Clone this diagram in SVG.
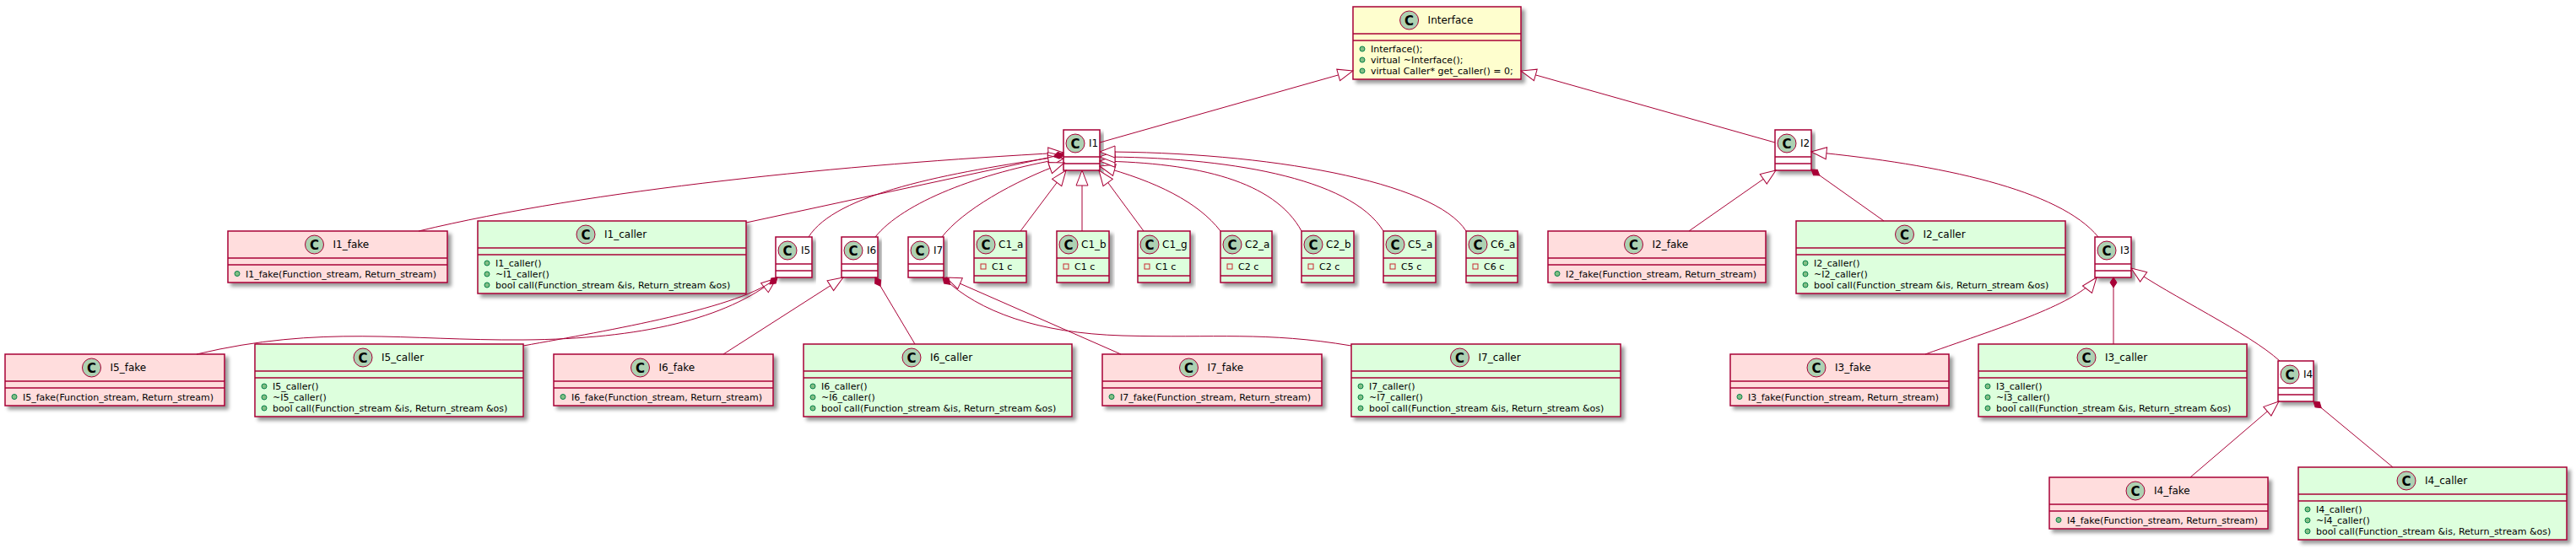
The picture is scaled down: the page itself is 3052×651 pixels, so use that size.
<svg xmlns="http://www.w3.org/2000/svg" width="3052" height="651" viewBox="0 0 3052 651">
<defs>
<style>
.bx{stroke:#A80036;stroke-width:1.5;filter:url(#sh)}
.sp{stroke:#A80036;stroke-width:1.5}
.e{fill:none;stroke:#A80036;stroke-width:1}
.ext{marker-start:url(#ext)}
.cmp{marker-start:url(#cmp)}
.t{font-family:"DejaVu Sans","Liberation Sans",sans-serif;font-size:12px;fill:#000}
.m{font-family:"DejaVu Sans","Liberation Sans",sans-serif;font-size:11px;fill:#000}
.spot{fill:#ADD1B2;stroke:#A80036;stroke-width:1}
.sc{font-family:"DejaVu Sans","Liberation Sans",sans-serif;font-size:15px;font-weight:bold;text-anchor:middle;fill:#000}
.pub{fill:#84BE84;stroke:#038048;stroke-width:1}
.prv{fill:none;stroke:#C82930;stroke-width:1}
.y{fill:#FEFECE}.w{fill:#FFFFFF}.p{fill:#FFDDDD}.g{fill:#DDFFDD}
</style>
<filter id="sh" x="-5%" y="-10%" width="115%" height="140%">
<feGaussianBlur in="SourceAlpha" stdDeviation="2" result="b"/>
<feColorMatrix in="b" type="matrix" values="0 0 0 0 0 0 0 0 0 0 0 0 0 0 0 0 0 0 .4 0" result="c"/>
<feOffset in="c" dx="4" dy="4" result="o"/>
<feMerge><feMergeNode in="o"/><feMergeNode in="SourceGraphic"/></feMerge>
</filter>
<marker id="ext" markerUnits="userSpaceOnUse" markerWidth="20" markerHeight="16" refX="18" refY="7" orient="auto-start-reverse" overflow="visible">
<polygon points="18,7 0,0 0,14" fill="#FFFFFF" stroke="#A80036" stroke-width="1"/>
</marker>
<marker id="cmp" markerUnits="userSpaceOnUse" markerWidth="14" markerHeight="10" refX="12" refY="4" orient="auto-start-reverse" overflow="visible">
<polygon points="12,4 6,0 0,4 6,8" fill="#A80036" stroke="#A80036" stroke-width="1"/>
</marker>
</defs>
<rect width="3052" height="651" fill="#FFFFFF"/>

<g id="Interface">
<rect class="bx y" x="1603" y="8" width="199" height="86"/>
<circle class="spot" cx="1669.6" cy="24" r="11"/><text class="sc" x="1669.6" y="29.5">C</text>
<text class="t" x="1691.6" y="28.4">Interface</text>
<line class="sp" x1="1603" y1="40" x2="1802" y2="40"/><line class="sp" x1="1603" y1="48" x2="1802" y2="48"/>
<circle class="pub" cx="1614" cy="58" r="3"/><text class="m" x="1624" y="62">Interface();</text>
<circle class="pub" cx="1614" cy="71" r="3"/><text class="m" x="1624" y="75">virtual ~Interface();</text>
<circle class="pub" cx="1614" cy="84" r="3"/><text class="m" x="1624" y="88">virtual Caller* get_caller() = 0;</text>
</g>

<g id="I1">
<rect class="bx w" x="1260" y="154" width="43" height="48"/>
<circle class="spot" cx="1274" cy="170" r="11"/><text class="sc" x="1274" y="175.5">C</text>
<text class="t" x="1290" y="174.4">I1</text>
<line class="sp" x1="1260" y1="186" x2="1303" y2="186"/><line class="sp" x1="1260" y1="194" x2="1303" y2="194"/>
</g>

<g id="I2">
<rect class="bx w" x="2103" y="154" width="43" height="48"/>
<circle class="spot" cx="2117" cy="170" r="11"/><text class="sc" x="2117" y="175.5">C</text>
<text class="t" x="2133" y="174.4">I2</text>
<line class="sp" x1="2103" y1="186" x2="2146" y2="186"/><line class="sp" x1="2103" y1="194" x2="2146" y2="194"/>
</g>

<g id="I1_fake">
<rect class="bx p" x="270" y="274" width="260" height="61"/>
<circle class="spot" cx="372.5" cy="290" r="11"/><text class="sc" x="372.5" y="295.5">C</text>
<text class="t" x="394.5" y="294.4">I1_fake</text>
<line class="sp" x1="270" y1="306" x2="530" y2="306"/><line class="sp" x1="270" y1="314" x2="530" y2="314"/>
<circle class="pub" cx="281" cy="324.5" r="3"/><text class="m" x="291" y="328.5">I1_fake(Function_stream, Return_stream)</text>
</g>

<g id="I1_caller">
<rect class="bx g" x="566" y="262" width="318" height="86"/>
<circle class="spot" cx="694" cy="278" r="11"/><text class="sc" x="694" y="283.5">C</text>
<text class="t" x="716" y="282.4">I1_caller</text>
<line class="sp" x1="566" y1="294" x2="884" y2="294"/><line class="sp" x1="566" y1="302" x2="884" y2="302"/>
<circle class="pub" cx="577" cy="312" r="3"/><text class="m" x="587" y="316">I1_caller()</text>
<circle class="pub" cx="577" cy="325" r="3"/><text class="m" x="587" y="329">~I1_caller()</text>
<circle class="pub" cx="577" cy="338" r="3"/><text class="m" x="587" y="342">bool call(Function_stream &amp;is, Return_stream &amp;os)</text>
</g>

<g id="I5">
<rect class="bx w" x="919" y="281" width="43" height="48"/>
<circle class="spot" cx="933" cy="297" r="11"/><text class="sc" x="933" y="302.5">C</text>
<text class="t" x="949" y="301.4">I5</text>
<line class="sp" x1="919" y1="313" x2="962" y2="313"/><line class="sp" x1="919" y1="321" x2="962" y2="321"/>
</g>

<g id="I6">
<rect class="bx w" x="997" y="281" width="43" height="48"/>
<circle class="spot" cx="1011" cy="297" r="11"/><text class="sc" x="1011" y="302.5">C</text>
<text class="t" x="1027" y="301.4">I6</text>
<line class="sp" x1="997" y1="313" x2="1040" y2="313"/><line class="sp" x1="997" y1="321" x2="1040" y2="321"/>
</g>

<g id="I7">
<rect class="bx w" x="1076" y="281" width="42" height="48"/>
<circle class="spot" cx="1090" cy="297" r="11"/><text class="sc" x="1090" y="302.5">C</text>
<text class="t" x="1106" y="301.4">I7</text>
<line class="sp" x1="1076" y1="313" x2="1118" y2="313"/><line class="sp" x1="1076" y1="321" x2="1118" y2="321"/>
</g>

<g id="C1_a">
<rect class="bx g" x="1154" y="274" width="62" height="61"/>
<circle class="spot" cx="1168" cy="290" r="11"/><text class="sc" x="1168" y="295.5">C</text>
<text class="t" x="1183" y="294.4">C1_a</text>
<line class="sp" x1="1154" y1="306" x2="1216" y2="306"/><line class="sp" x1="1154" y1="327" x2="1216" y2="327"/>
<rect class="prv" x="1162" y="313" width="6" height="6"/><text class="m" x="1175" y="320">C1 c</text>
</g>

<g id="C1_b">
<rect class="bx g" x="1252" y="274" width="62" height="61"/>
<circle class="spot" cx="1266" cy="290" r="11"/><text class="sc" x="1266" y="295.5">C</text>
<text class="t" x="1281" y="294.4">C1_b</text>
<line class="sp" x1="1252" y1="306" x2="1314" y2="306"/><line class="sp" x1="1252" y1="327" x2="1314" y2="327"/>
<rect class="prv" x="1260" y="313" width="6" height="6"/><text class="m" x="1273" y="320">C1 c</text>
</g>

<g id="C1_g">
<rect class="bx g" x="1348" y="274" width="62" height="61"/>
<circle class="spot" cx="1362" cy="290" r="11"/><text class="sc" x="1362" y="295.5">C</text>
<text class="t" x="1377" y="294.4">C1_g</text>
<line class="sp" x1="1348" y1="306" x2="1410" y2="306"/><line class="sp" x1="1348" y1="327" x2="1410" y2="327"/>
<rect class="prv" x="1356" y="313" width="6" height="6"/><text class="m" x="1369" y="320">C1 c</text>
</g>

<g id="C2_a">
<rect class="bx g" x="1446" y="274" width="61" height="61"/>
<circle class="spot" cx="1460" cy="290" r="11"/><text class="sc" x="1460" y="295.5">C</text>
<text class="t" x="1475" y="294.4">C2_a</text>
<line class="sp" x1="1446" y1="306" x2="1507" y2="306"/><line class="sp" x1="1446" y1="327" x2="1507" y2="327"/>
<rect class="prv" x="1454" y="313" width="6" height="6"/><text class="m" x="1467" y="320">C2 c</text>
</g>

<g id="C2_b">
<rect class="bx g" x="1542" y="274" width="62" height="61"/>
<circle class="spot" cx="1556" cy="290" r="11"/><text class="sc" x="1556" y="295.5">C</text>
<text class="t" x="1571" y="294.4">C2_b</text>
<line class="sp" x1="1542" y1="306" x2="1604" y2="306"/><line class="sp" x1="1542" y1="327" x2="1604" y2="327"/>
<rect class="prv" x="1550" y="313" width="6" height="6"/><text class="m" x="1563" y="320">C2 c</text>
</g>

<g id="C5_a">
<rect class="bx g" x="1639" y="274" width="62" height="61"/>
<circle class="spot" cx="1653" cy="290" r="11"/><text class="sc" x="1653" y="295.5">C</text>
<text class="t" x="1668" y="294.4">C5_a</text>
<line class="sp" x1="1639" y1="306" x2="1701" y2="306"/><line class="sp" x1="1639" y1="327" x2="1701" y2="327"/>
<rect class="prv" x="1647" y="313" width="6" height="6"/><text class="m" x="1660" y="320">C5 c</text>
</g>

<g id="C6_a">
<rect class="bx g" x="1737" y="274" width="61" height="61"/>
<circle class="spot" cx="1751" cy="290" r="11"/><text class="sc" x="1751" y="295.5">C</text>
<text class="t" x="1766" y="294.4">C6_a</text>
<line class="sp" x1="1737" y1="306" x2="1798" y2="306"/><line class="sp" x1="1737" y1="327" x2="1798" y2="327"/>
<rect class="prv" x="1745" y="313" width="6" height="6"/><text class="m" x="1758" y="320">C6 c</text>
</g>

<g id="I2_fake">
<rect class="bx p" x="1834" y="274" width="258" height="61"/>
<circle class="spot" cx="1935.5" cy="290" r="11"/><text class="sc" x="1935.5" y="295.5">C</text>
<text class="t" x="1957.5" y="294.4">I2_fake</text>
<line class="sp" x1="1834" y1="306" x2="2092" y2="306"/><line class="sp" x1="1834" y1="314" x2="2092" y2="314"/>
<circle class="pub" cx="1845" cy="324.5" r="3"/><text class="m" x="1855" y="328.5">I2_fake(Function_stream, Return_stream)</text>
</g>

<g id="I2_caller">
<rect class="bx g" x="2128" y="262" width="319" height="86"/>
<circle class="spot" cx="2256.5" cy="278" r="11"/><text class="sc" x="2256.5" y="283.5">C</text>
<text class="t" x="2278.5" y="282.4">I2_caller</text>
<line class="sp" x1="2128" y1="294" x2="2447" y2="294"/><line class="sp" x1="2128" y1="302" x2="2447" y2="302"/>
<circle class="pub" cx="2139" cy="312" r="3"/><text class="m" x="2149" y="316">I2_caller()</text>
<circle class="pub" cx="2139" cy="325" r="3"/><text class="m" x="2149" y="329">~I2_caller()</text>
<circle class="pub" cx="2139" cy="338" r="3"/><text class="m" x="2149" y="342">bool call(Function_stream &amp;is, Return_stream &amp;os)</text>
</g>

<g id="I3">
<rect class="bx w" x="2482" y="281" width="43" height="48"/>
<circle class="spot" cx="2496" cy="297" r="11"/><text class="sc" x="2496" y="302.5">C</text>
<text class="t" x="2512" y="301.4">I3</text>
<line class="sp" x1="2482" y1="313" x2="2525" y2="313"/><line class="sp" x1="2482" y1="321" x2="2525" y2="321"/>
</g>

<g id="I5_fake">
<rect class="bx p" x="6" y="420" width="260" height="61"/>
<circle class="spot" cx="108.5" cy="436" r="11"/><text class="sc" x="108.5" y="441.5">C</text>
<text class="t" x="130.5" y="440.4">I5_fake</text>
<line class="sp" x1="6" y1="452" x2="266" y2="452"/><line class="sp" x1="6" y1="460" x2="266" y2="460"/>
<circle class="pub" cx="17" cy="470.5" r="3"/><text class="m" x="27" y="474.5">I5_fake(Function_stream, Return_stream)</text>
</g>

<g id="I5_caller">
<rect class="bx g" x="302" y="408" width="318" height="86"/>
<circle class="spot" cx="430" cy="424" r="11"/><text class="sc" x="430" y="429.5">C</text>
<text class="t" x="452" y="428.4">I5_caller</text>
<line class="sp" x1="302" y1="440" x2="620" y2="440"/><line class="sp" x1="302" y1="448" x2="620" y2="448"/>
<circle class="pub" cx="313" cy="458" r="3"/><text class="m" x="323" y="462">I5_caller()</text>
<circle class="pub" cx="313" cy="471" r="3"/><text class="m" x="323" y="475">~I5_caller()</text>
<circle class="pub" cx="313" cy="484" r="3"/><text class="m" x="323" y="488">bool call(Function_stream &amp;is, Return_stream &amp;os)</text>
</g>

<g id="I6_fake">
<rect class="bx p" x="656" y="420" width="260" height="61"/>
<circle class="spot" cx="758.5" cy="436" r="11"/><text class="sc" x="758.5" y="441.5">C</text>
<text class="t" x="780.5" y="440.4">I6_fake</text>
<line class="sp" x1="656" y1="452" x2="916" y2="452"/><line class="sp" x1="656" y1="460" x2="916" y2="460"/>
<circle class="pub" cx="667" cy="470.5" r="3"/><text class="m" x="677" y="474.5">I6_fake(Function_stream, Return_stream)</text>
</g>

<g id="I6_caller">
<rect class="bx g" x="952" y="408" width="318" height="86"/>
<circle class="spot" cx="1080" cy="424" r="11"/><text class="sc" x="1080" y="429.5">C</text>
<text class="t" x="1102" y="428.4">I6_caller</text>
<line class="sp" x1="952" y1="440" x2="1270" y2="440"/><line class="sp" x1="952" y1="448" x2="1270" y2="448"/>
<circle class="pub" cx="963" cy="458" r="3"/><text class="m" x="973" y="462">I6_caller()</text>
<circle class="pub" cx="963" cy="471" r="3"/><text class="m" x="973" y="475">~I6_caller()</text>
<circle class="pub" cx="963" cy="484" r="3"/><text class="m" x="973" y="488">bool call(Function_stream &amp;is, Return_stream &amp;os)</text>
</g>

<g id="I7_fake">
<rect class="bx p" x="1306" y="420" width="260" height="61"/>
<circle class="spot" cx="1408.5" cy="436" r="11"/><text class="sc" x="1408.5" y="441.5">C</text>
<text class="t" x="1430.5" y="440.4">I7_fake</text>
<line class="sp" x1="1306" y1="452" x2="1566" y2="452"/><line class="sp" x1="1306" y1="460" x2="1566" y2="460"/>
<circle class="pub" cx="1317" cy="470.5" r="3"/><text class="m" x="1327" y="474.5">I7_fake(Function_stream, Return_stream)</text>
</g>

<g id="I7_caller">
<rect class="bx g" x="1601" y="408" width="319" height="86"/>
<circle class="spot" cx="1729.5" cy="424" r="11"/><text class="sc" x="1729.5" y="429.5">C</text>
<text class="t" x="1751.5" y="428.4">I7_caller</text>
<line class="sp" x1="1601" y1="440" x2="1920" y2="440"/><line class="sp" x1="1601" y1="448" x2="1920" y2="448"/>
<circle class="pub" cx="1612" cy="458" r="3"/><text class="m" x="1622" y="462">I7_caller()</text>
<circle class="pub" cx="1612" cy="471" r="3"/><text class="m" x="1622" y="475">~I7_caller()</text>
<circle class="pub" cx="1612" cy="484" r="3"/><text class="m" x="1622" y="488">bool call(Function_stream &amp;is, Return_stream &amp;os)</text>
</g>

<g id="I3_fake">
<rect class="bx p" x="2050" y="420" width="259" height="61"/>
<circle class="spot" cx="2152" cy="436" r="11"/><text class="sc" x="2152" y="441.5">C</text>
<text class="t" x="2174" y="440.4">I3_fake</text>
<line class="sp" x1="2050" y1="452" x2="2309" y2="452"/><line class="sp" x1="2050" y1="460" x2="2309" y2="460"/>
<circle class="pub" cx="2061" cy="470.5" r="3"/><text class="m" x="2071" y="474.5">I3_fake(Function_stream, Return_stream)</text>
</g>

<g id="I3_caller">
<rect class="bx g" x="2344" y="408" width="318" height="86"/>
<circle class="spot" cx="2472" cy="424" r="11"/><text class="sc" x="2472" y="429.5">C</text>
<text class="t" x="2494" y="428.4">I3_caller</text>
<line class="sp" x1="2344" y1="440" x2="2662" y2="440"/><line class="sp" x1="2344" y1="448" x2="2662" y2="448"/>
<circle class="pub" cx="2355" cy="458" r="3"/><text class="m" x="2365" y="462">I3_caller()</text>
<circle class="pub" cx="2355" cy="471" r="3"/><text class="m" x="2365" y="475">~I3_caller()</text>
<circle class="pub" cx="2355" cy="484" r="3"/><text class="m" x="2365" y="488">bool call(Function_stream &amp;is, Return_stream &amp;os)</text>
</g>

<g id="I4">
<rect class="bx w" x="2699" y="428" width="42" height="48"/>
<circle class="spot" cx="2713" cy="444" r="11"/><text class="sc" x="2713" y="449.5">C</text>
<text class="t" x="2729" y="448.4">I4</text>
<line class="sp" x1="2699" y1="460" x2="2741" y2="460"/><line class="sp" x1="2699" y1="468" x2="2741" y2="468"/>
</g>

<g id="I4_fake">
<rect class="bx p" x="2428" y="566" width="259" height="61"/>
<circle class="spot" cx="2530" cy="582" r="11"/><text class="sc" x="2530" y="587.5">C</text>
<text class="t" x="2552" y="586.4">I4_fake</text>
<line class="sp" x1="2428" y1="598" x2="2687" y2="598"/><line class="sp" x1="2428" y1="606" x2="2687" y2="606"/>
<circle class="pub" cx="2439" cy="616.5" r="3"/><text class="m" x="2449" y="620.5">I4_fake(Function_stream, Return_stream)</text>
</g>

<g id="I4_caller">
<rect class="bx g" x="2723" y="554" width="318" height="86"/>
<circle class="spot" cx="2851" cy="570" r="11"/><text class="sc" x="2851" y="575.5">C</text>
<text class="t" x="2873" y="574.4">I4_caller</text>
<line class="sp" x1="2723" y1="586" x2="3041" y2="586"/><line class="sp" x1="2723" y1="594" x2="3041" y2="594"/>
<circle class="pub" cx="2734" cy="604" r="3"/><text class="m" x="2744" y="608">I4_caller()</text>
<circle class="pub" cx="2734" cy="617" r="3"/><text class="m" x="2744" y="621">~I4_caller()</text>
<circle class="pub" cx="2734" cy="630" r="3"/><text class="m" x="2744" y="634">bool call(Function_stream &amp;is, Return_stream &amp;os)</text>
</g>

<g id="connectors">
<path class="e ext" d="M1603,84 L1303,169"/>
<path class="e ext" d="M1802,84 L2103,169"/>
<path class="e ext" d="M1260,181 C1000,195 700,225 496,274"/>
<path class="e ext" d="M1260,185 C1120,205 990,230 958,281"/>
<path class="e ext" d="M1260,188 C1160,205 1070,240 1037,281"/>
<path class="e ext" d="M1261,193 C1200,215 1140,250 1116,281"/>
<path class="e ext" d="M1263,202 L1209,274"/>
<path class="e ext" d="M1282,202 L1282,274"/>
<path class="e ext" d="M1302,202 L1355,274"/>
<path class="e ext" d="M1303,197 C1370,215 1420,240 1446,274"/>
<path class="e ext" d="M1303,191 C1420,193 1510,215 1542,274"/>
<path class="e ext" d="M1303,186 C1450,186 1600,210 1639,274"/>
<path class="e ext" d="M1303,180 C1500,180 1700,215 1737,274"/>
<path class="e ext" d="M2104,202 L2001,274"/>
<path class="e ext" d="M2146,180 C2300,195 2440,225 2486,281"/>
<path class="e ext" d="M2484,329 C2460,360 2380,385 2281,420"/>
<path class="e ext" d="M2525,318 C2570,350 2665,395 2701,428"/>
<path class="e ext" d="M2700,476 L2595,566"/>
<path class="e ext" d="M920,330 C860,378 760,402 620,403 C480,404 380,385 233,420"/>
<path class="e ext" d="M999,329 L857,420"/>
<path class="e ext" d="M1121,329 L1328,420"/>
<path class="e cmp" d="M1260,183 L884,264"/>
<path class="e cmp" d="M2146,201 L2232,262"/>
<path class="e cmp" d="M2504,329 L2504,408"/>
<path class="e cmp" d="M2741,476 L2835,554"/>
<path class="e cmp" d="M921,329 C880,365 720,392 620,410"/>
<path class="e cmp" d="M1037,329 L1084,408"/>
<path class="e cmp" d="M1117,329 C1160,370 1230,395 1330,398 C1440,401 1500,393 1601,410"/>
</g>
</svg>
